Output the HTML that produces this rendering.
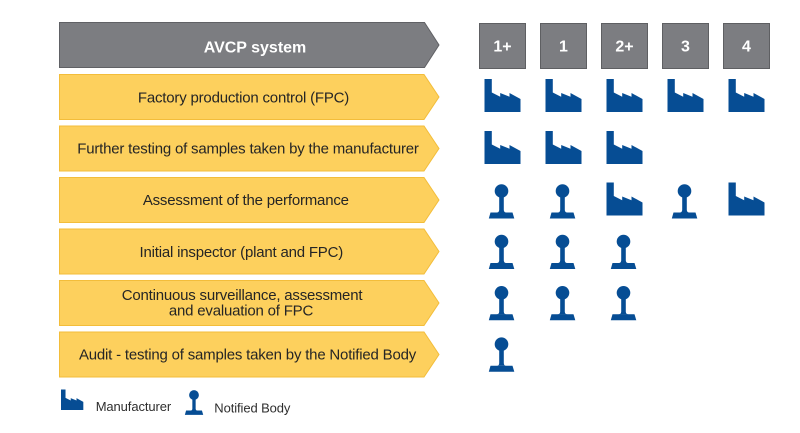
<!DOCTYPE html>
<html>
<head>
<meta charset="utf-8">
<style>
  html, body { margin: 0; padding: 0; background: #ffffff; }
  body { width: 800px; height: 433px; overflow: hidden; }
  svg { display: block; }
  .lbl { font-family: "Liberation Sans", Arial, sans-serif; font-size: 15px; fill: #252525; letter-spacing: -0.2px; }
  .hdr { font-family: "Liberation Sans", Arial, sans-serif; font-size: 16px; font-weight: bold; fill: #ffffff; }
  .leg { font-family: "Liberation Sans", Arial, sans-serif; font-size: 13px; fill: #2e2e2e; letter-spacing: -0.1px; }
</style>
</head>
<body>
<svg width="800" height="433" viewBox="0 0 800 433" xmlns="http://www.w3.org/2000/svg">
  <defs>
    <g id="fac">
      <path d="M0,0H7.3V13.5L15.7,17.7V14L25,17.7V14L36,20V33H0Z" fill="#064d94"/>
    </g>
    <g id="stp" fill="#064d94">
      <circle cx="12.5" cy="7" r="6.8"/>
      <path d="M10.2,11H14.8V26Q15,28.6 17.5,28.6H7.5Q10,28.6 10.2,26Z"/>
      <path d="M1.5,28.5H23.5L25.3,34.5H-0.2Z"/>
    </g>
  </defs>

  <!-- Header -->
  <polygon points="59.5,22.5 424.5,22.5 439,45 424.5,67.5 59.5,67.5" fill="#7c7d81" stroke="#606165" stroke-width="1"/>
  <text class="hdr" x="255" y="52.5" text-anchor="middle">AVCP system</text>

  <!-- Number boxes -->
  <g fill="#7c7d81" stroke="#5e5f62" stroke-width="1">
    <rect x="479.5" y="23.5" width="46" height="45"/>
    <rect x="540.5" y="23.5" width="46" height="45"/>
    <rect x="601.5" y="23.5" width="46" height="45"/>
    <rect x="662.5" y="23.5" width="46" height="45"/>
    <rect x="723.5" y="23.5" width="46" height="45"/>
  </g>
  <g class="hdr" text-anchor="middle">
    <text x="502.5" y="51.7">1+</text>
    <text x="563.5" y="51.7">1</text>
    <text x="624.5" y="51.7">2+</text>
    <text x="685.5" y="51.7">3</text>
    <text x="746.5" y="51.7">4</text>
  </g>

  <!-- Yellow rows -->
  <g fill="#fdd05d" stroke="#f3bd3a" stroke-width="1">
    <polygon points="59.5,74.5 424,74.5 439,97 424,119.5 59.5,119.5"/>
    <polygon points="59.5,126 424,126 439,148.5 424,171 59.5,171"/>
    <polygon points="59.5,177.5 424,177.5 439,200 424,222.5 59.5,222.5"/>
    <polygon points="59.5,229 424,229 439,251.5 424,274 59.5,274"/>
    <polygon points="59.5,280.5 424,280.5 439,303 424,325.5 59.5,325.5"/>
    <polygon points="59.5,332 424,332 439,354.5 424,377 59.5,377"/>
  </g>

  <g class="lbl" text-anchor="middle">
    <text x="243.5" y="102.5">Factory production control (FPC)</text>
    <text x="248" y="153.6">Further testing of samples taken by the manufacturer</text>
    <text x="245.8" y="205.2">Assessment of the performance</text>
    <text x="241.3" y="256.8">Initial inspector (plant and FPC)</text>
    <text x="242" y="299.8">Continuous surveillance, assessment</text>
    <text x="241" y="315.6">and evaluation of FPC</text>
    <text x="247.5" y="359.5">Audit - testing of samples taken by the Notified Body</text>
  </g>

  <!-- Row 1: all factories -->
  <use href="#fac" x="484.5" y="79"/>
  <use href="#fac" x="545.5" y="79"/>
  <use href="#fac" x="606.5" y="79"/>
  <use href="#fac" x="667.5" y="79"/>
  <use href="#fac" x="728.5" y="79"/>

  <!-- Row 2 -->
  <use href="#fac" x="484.5" y="131"/>
  <use href="#fac" x="545.5" y="131"/>
  <use href="#fac" x="606.5" y="131"/>

  <!-- Row 3 -->
  <use href="#stp" x="489" y="184"/>
  <use href="#stp" x="550" y="184"/>
  <use href="#fac" x="606.5" y="182.5"/>
  <use href="#stp" x="672" y="184"/>
  <use href="#fac" x="728.5" y="182.5"/>

  <!-- Row 4 -->
  <use href="#stp" x="489" y="234.5"/>
  <use href="#stp" x="550" y="234.5"/>
  <use href="#stp" x="611" y="234.5"/>

  <!-- Row 5 -->
  <use href="#stp" x="489" y="285.8"/>
  <use href="#stp" x="550" y="285.8"/>
  <use href="#stp" x="611" y="285.8"/>

  <!-- Row 6 -->
  <use href="#stp" x="489" y="337.2"/>

  <!-- Legend -->
  <g transform="translate(61,389.5) scale(0.62)">
    <use href="#fac"/>
  </g>
  <text class="leg" x="95.7" y="411">Manufacturer</text>
  <g transform="translate(185,390) scale(0.72)">
    <use href="#stp"/>
  </g>
  <text class="leg" x="214.3" y="412.7">Notified Body</text>
</svg>
</body>
</html>
